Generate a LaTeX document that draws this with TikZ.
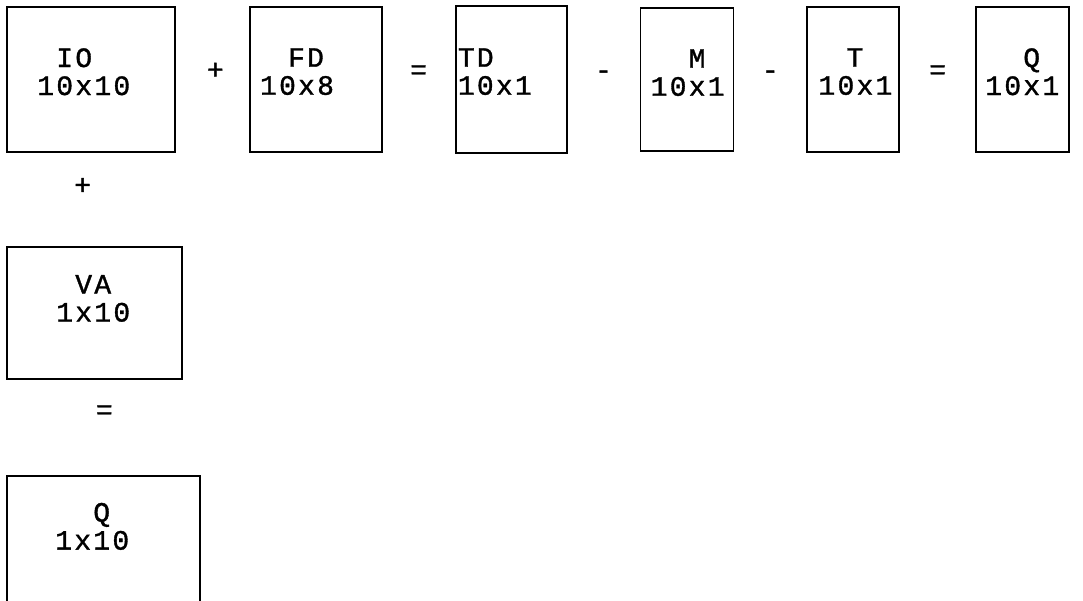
\documentclass[tikz,border=0pt]{standalone}
\usepackage{fontspec}
\setmonofont[FakeBold=1.2,LetterSpace=8]{Liberation Mono}
\usepackage{tikz}
\usetikzlibrary{positioning}
\tikzstyle{block} = [draw, rectangle, line width=1.8pt, inner sep=0pt]
\tikzstyle{lbl} = [inner sep=0pt, align=left,
    font=\ttfamily\fontsize{28}{28}\selectfont]
\tikzstyle{op} = [inner sep=0pt, text height=14pt, text depth=0pt,
    font=\ttfamily\fontsize{28}{28}\selectfont]

\begin{document}
\begin{tikzpicture}[node distance=72pt]
    \useasboundingbox (0,0) rectangle (1083pt,-601pt);
    \node [block, minimum width=168pt, minimum height=145pt] (io) at (91pt,-79.5pt) {};
    \node [block, minimum width=132pt, minimum height=145pt, right=73pt of io] (fd) {};
    \node [block, minimum width=111pt, minimum height=147pt, right=of fd] (td) {};
    \node [block, minimum width=93pt, minimum height=143pt, right=of td] (m) {};
    \node [block, minimum width=92pt, minimum height=145pt, right=of m] (t) {};
    \node [block, minimum width=93pt, minimum height=145pt, right=75pt of t] (q) {};
    \node [block, minimum width=175pt, minimum height=132pt, below=93pt of io.south west, anchor=north west] (va) {};
    \node [block, minimum width=193pt, minimum height=127pt, below=95pt of va.south west, anchor=north west] (qq) {};
    % names and sizes
    \node [lbl, below right=42pt and 31pt of io.north west] (iotext) {\hspace*{19pt}IO\\10x10};
    \node [lbl, below right=42pt and 11pt of fd.north west] (fdtext) {\hspace*{28pt}FD\\10x8};
    \node [lbl, below right=43pt and 3pt of td.north west] (tdtext) {TD\\10x1};
    \node [lbl, below right=42pt and 11pt of m.north west] (mtext) {\hspace*{38pt}M\\10x1};
    \node [lbl, below right=42pt and 12pt of t.north west] (ttext) {\hspace*{28pt}T\\10x1};
    \node [lbl, below right=42pt and 10pt of q.north west] (qtext) {\hspace*{38pt}Q\\10x1};
    \node [lbl, below right=29pt and 50pt of va.north west] (vatext) {\hspace*{19pt}VA\\1x10};
    \node [lbl, below right=28pt and 49pt of qq.north west] (qqtext) {\hspace*{38pt}Q\\1x10};
    % operators
    \path (io) -- node [op, yshift=7.5pt, xshift=3pt] (plus1) {+} (fd);
    \path (fd) -- node [op, yshift=7.5pt] (eq1) {=} (td);
    \path (td) -- node [op, yshift=7.5pt] (minus1) {-} (m);
    \path (m) -- node [op, yshift=7.5pt] (minus2) {-} (t);
    \path (t) -- node [op, yshift=7.5pt] (eq2) {=} (q);
    \path (io) -- node [op, pos=0.37, xshift=-10pt] (plus2) {+} (va);
    \path (va) -- node [op, pos=0.34, xshift=6pt] (eq3) {=} (qq);
\end{tikzpicture}
\end{document}
